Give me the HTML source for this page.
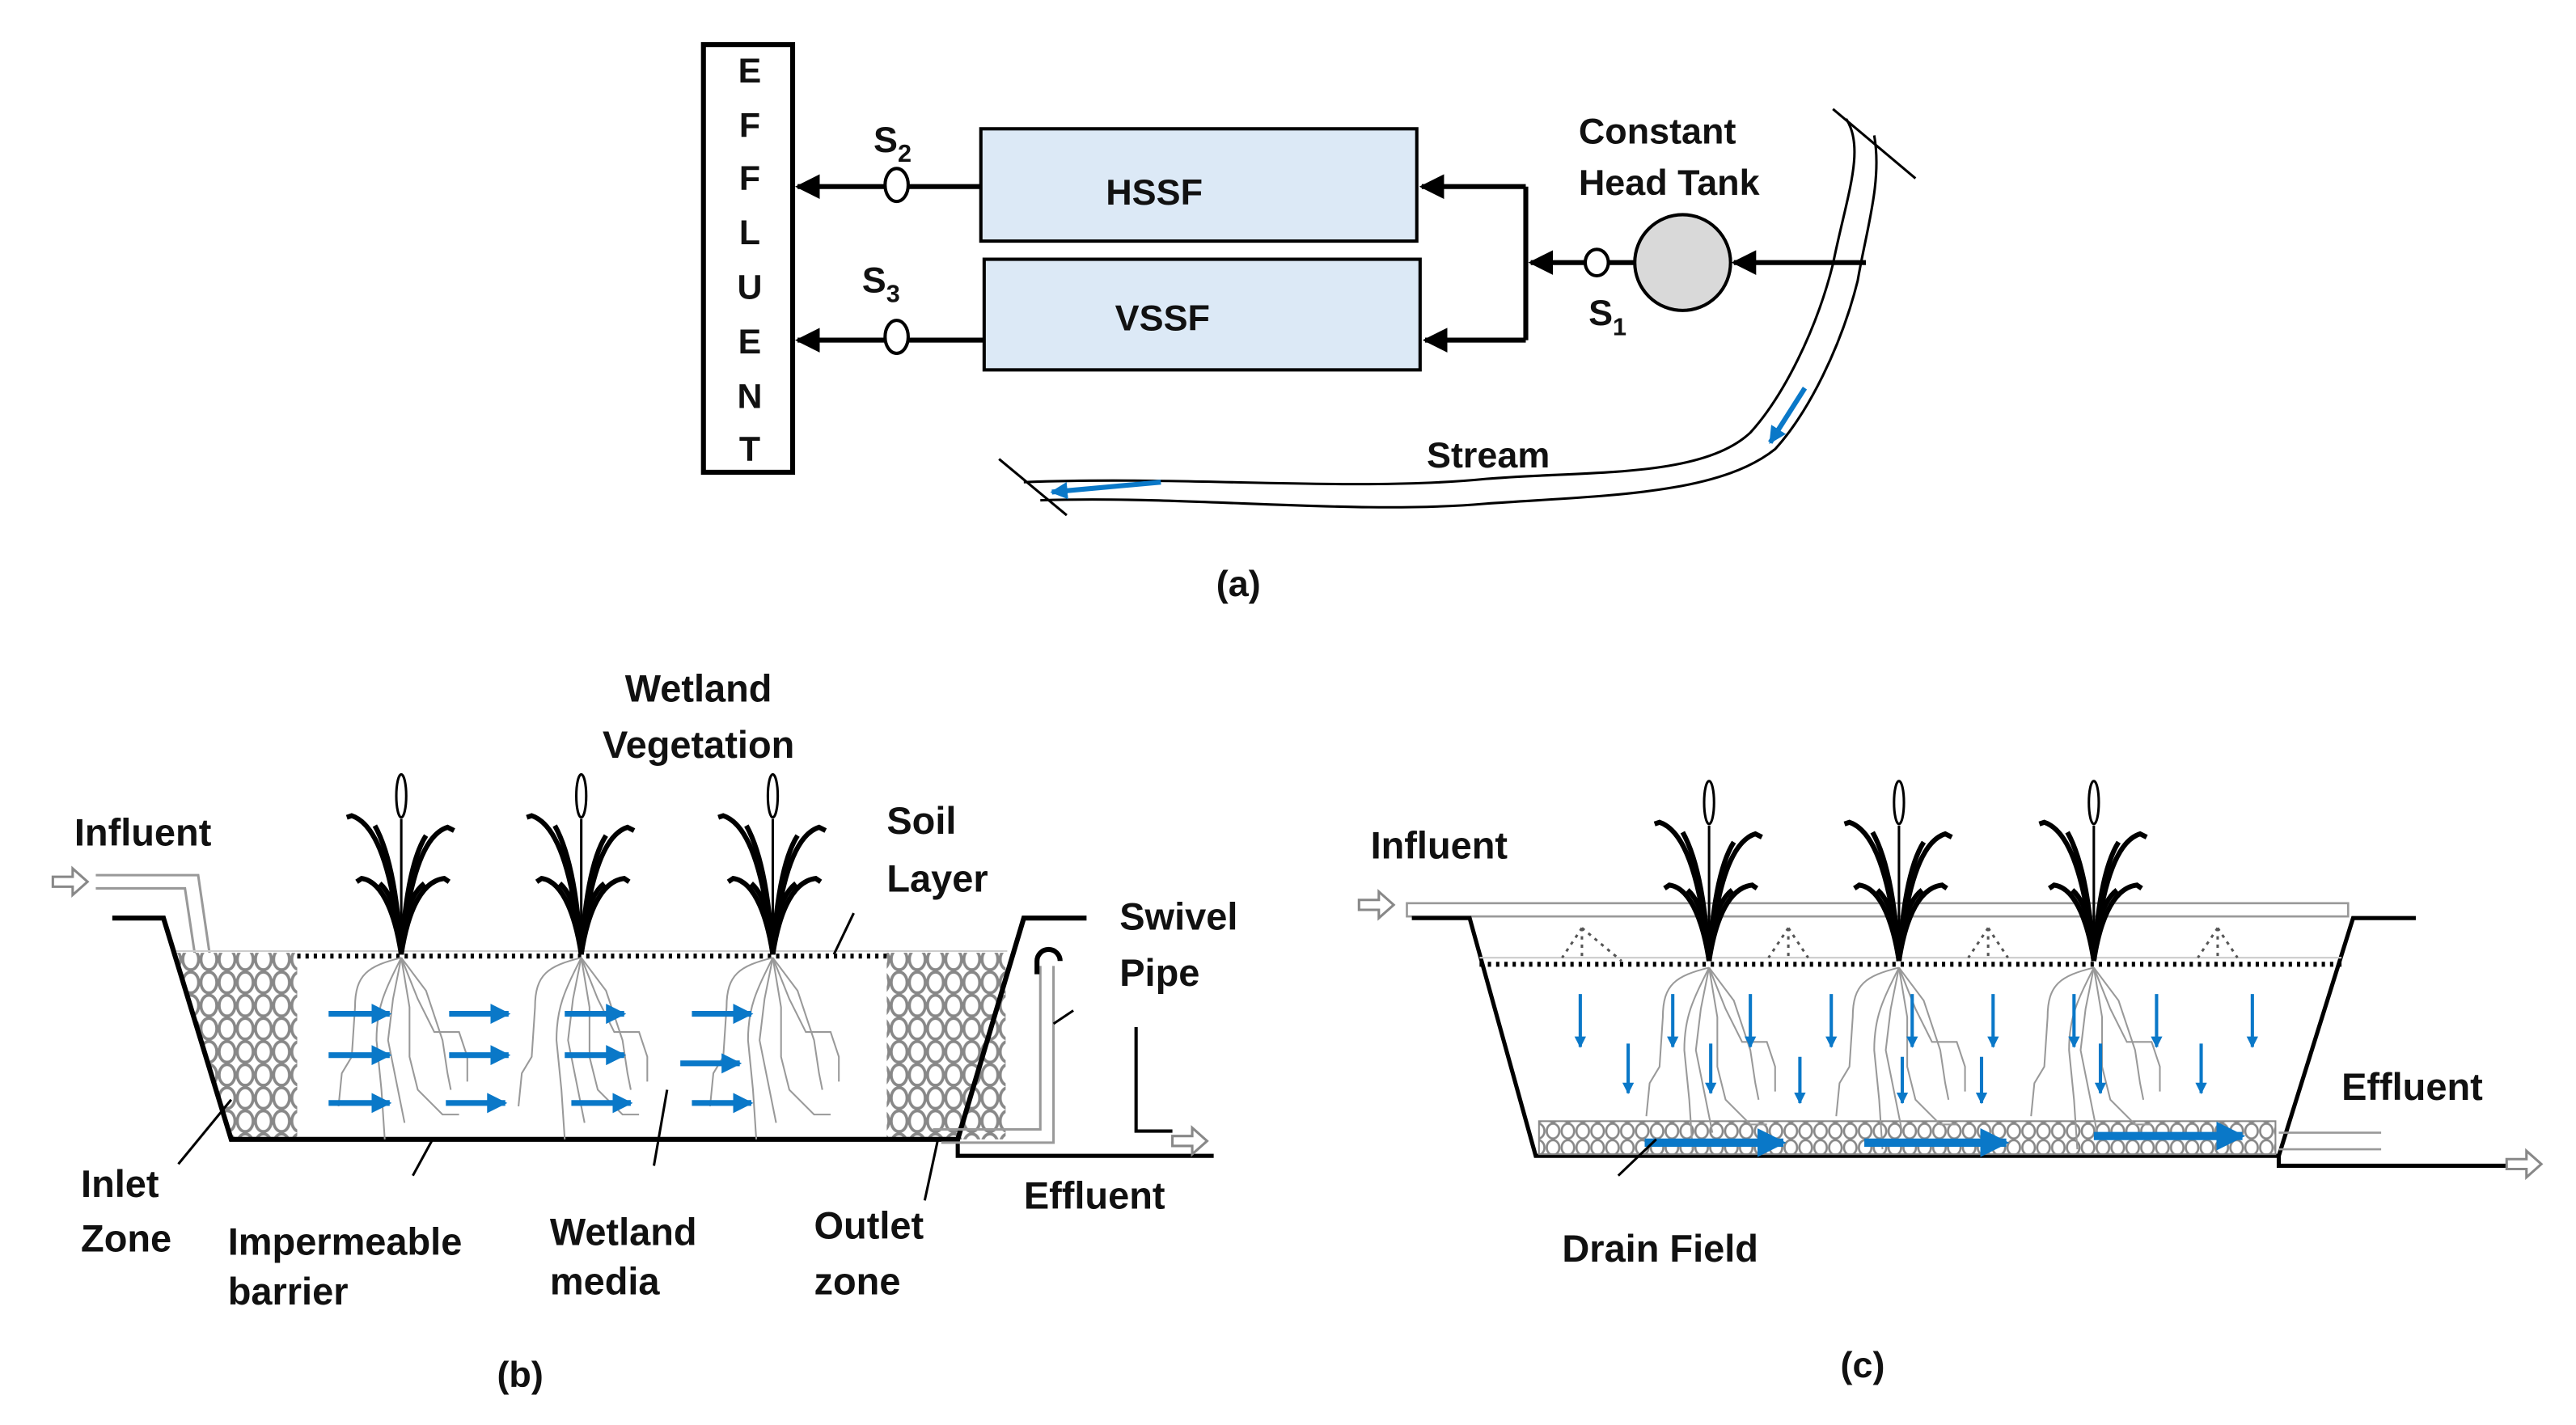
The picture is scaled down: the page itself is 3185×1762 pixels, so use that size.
<!DOCTYPE html>
<html><head><meta charset="utf-8"><style>
html,body{margin:0;padding:0;background:#fff;}
svg{display:block;}
text{font-family:"Liberation Sans",sans-serif;font-weight:bold;fill:#111;}
</style></head><body>
<svg width="3185" height="1762" viewBox="0 0 1560 863" xmlns="http://www.w3.org/2000/svg">
<defs>
<marker id="ah" viewBox="0 0 10 10" refX="9" refY="5" markerWidth="5" markerHeight="5" orient="auto"><path d="M0,0 L10,5 L0,10 z" fill="#000"/></marker>
<marker id="bh" viewBox="0 0 10 10" refX="9" refY="5" markerWidth="3.5" markerHeight="3.5" orient="auto"><path d="M0,0 L10,5 L0,10 z" fill="#0a78c8"/></marker>
<pattern id="grav" width="11" height="14" patternUnits="userSpaceOnUse">
<rect width="11" height="14" fill="#fff"/><ellipse cx="5.5" cy="7" rx="4.8" ry="6.3" fill="none" stroke="#888" stroke-width="1.8"/></pattern>
<pattern id="grav2" width="9" height="10" patternUnits="userSpaceOnUse">
<rect width="9" height="10" fill="#fff"/><ellipse cx="4.5" cy="5" rx="3.8" ry="4.5" fill="none" stroke="#888" stroke-width="1.3"/></pattern>
<g id="plant">
<line x1="0" y1="0" x2="0" y2="-82" stroke="#000" stroke-width="1.5"/>
<ellipse cx="0" cy="-96" rx="3" ry="13" fill="#fff" stroke="#000" stroke-width="1.5"/>
<g fill="none" stroke="#000" stroke-width="3">
<path d="M0,0 C-4,-40 -12,-78 -30,-84 l-3,1"/>
<path d="M0,0 C4,-40 12,-72 28,-77 l4,2"/>
<path d="M0,0 C-3,-20 -10,-44 -24,-46 l-3,2"/>
<path d="M0,0 C3,-20 10,-44 26,-46 l3,2"/>
<path d="M0,0 C-2,-30 -6,-60 -16,-78"/>
<path d="M0,0 C2,-30 6,-58 15,-72"/>
<path d="M0,0 C-1,-20 -5,-36 -13,-43"/>
<path d="M0,0 C1,-20 5,-36 14,-43"/>
</g></g>
<g id="roots" fill="none" stroke="#999" stroke-width="1">
<path d="M0,0 C-20,5 -28,10 -28,30 L-30,60 -36,70 -38,90"/>
<path d="M0,0 C-10,20 -15,30 -15,50 L-12,80 -10,110"/>
<path d="M0,0 L5,30 5,60 10,80 25,95 35,95"/>
<path d="M0,0 L10,25 20,45 35,45 40,60 40,75"/>
<path d="M0,0 L15,20 25,50 28,70 30,80"/>
<path d="M0,0 L-5,25 -8,50 -3,75 2,100"/>
</g>
</defs>

<!-- (a) -->
<rect x="426" y="27" width="54" height="259" fill="#fff" stroke="#000" stroke-width="3"/>
<g font-size="21" text-anchor="middle">
<text x="454" y="50">E</text><text x="454" y="83">F</text><text x="454" y="115">F</text><text x="454" y="148">L</text><text x="454" y="181">U</text><text x="454" y="214">E</text><text x="454" y="247">N</text><text x="454" y="279">T</text></g>
<rect x="594" y="78" width="264" height="68" fill="#dce9f6" stroke="#000" stroke-width="2"/>
<rect x="596" y="157" width="264" height="67" fill="#dce9f6" stroke="#000" stroke-width="2"/>
<text x="699" y="124" font-size="22" text-anchor="middle">HSSF</text>
<text x="704" y="200" font-size="22" text-anchor="middle">VSSF</text>
<g stroke="#000" stroke-width="3" fill="none">
<line x1="594" y1="113" x2="483" y2="113" marker-end="url(#ah)"/>
<line x1="596" y1="206" x2="483" y2="206" marker-end="url(#ah)"/>
<polyline points="924,113 924,206"/>
<line x1="924" y1="113" x2="861" y2="113" marker-end="url(#ah)"/>
<line x1="924" y1="206" x2="863" y2="206" marker-end="url(#ah)"/>
<line x1="990" y1="159" x2="927" y2="159" marker-end="url(#ah)"/>
<line x1="1130" y1="159" x2="1050" y2="159" marker-end="url(#ah)"/>
</g>
<ellipse cx="543" cy="112" rx="7" ry="10" fill="#fff" stroke="#000" stroke-width="2"/>
<ellipse cx="543" cy="204" rx="7" ry="10" fill="#fff" stroke="#000" stroke-width="2"/>
<ellipse cx="967" cy="159" rx="7" ry="8" fill="#fff" stroke="#000" stroke-width="2"/>
<circle cx="1019" cy="159" r="29" fill="#d9d9d9" stroke="#000" stroke-width="2"/>
<text x="529" y="92" font-size="22">S<tspan font-size="15" dy="6">2</tspan></text>
<text x="522" y="177" font-size="22">S<tspan font-size="15" dy="6">3</tspan></text>
<text x="962" y="197" font-size="22">S<tspan font-size="15" dy="6">1</tspan></text>
<text x="956" y="87" font-size="22">Constant</text>
<text x="956" y="118" font-size="22">Head Tank</text>
<g fill="none" stroke="#000" stroke-width="1.5">
<line x1="1110" y1="66" x2="1160" y2="108"/>
<line x1="605" y1="278" x2="646" y2="312"/>
<path d="M1118,72 C1130,90 1118,120 1110,160 C1100,200 1080,240 1060,262 C1030,290 960,285 900,290 C820,298 720,288 620,292"/>
<path d="M1135,82 C1140,110 1130,140 1125,170 C1115,210 1095,250 1075,272 C1040,300 970,300 900,305 C820,312 720,300 630,303"/>
</g>
<line x1="1093" y1="235" x2="1072" y2="268" stroke="#0a78c8" stroke-width="3" marker-end="url(#bh)"/>
<line x1="703" y1="292" x2="637" y2="298" stroke="#0a78c8" stroke-width="3" marker-end="url(#bh)"/>
<text x="864" y="283" font-size="22">Stream</text>
<text x="750" y="361" font-size="22" text-anchor="middle">(a)</text>

<!-- (b) -->
<text x="423" y="425" font-size="23" text-anchor="middle">Wetland</text>
<text x="423" y="459" font-size="23" text-anchor="middle">Vegetation</text>
<text x="45" y="512" font-size="23">Influent</text>
<text x="537" y="505" font-size="23">Soil</text>
<text x="537" y="540" font-size="23">Layer</text>
<text x="678" y="563" font-size="23">Swivel</text>
<text x="678" y="597" font-size="23">Pipe</text>
<path d="M32,531 h12 v-5 l9,8 -9,8 v-5 h-12z" fill="#fff" stroke="#888" stroke-width="1.5"/>
<polyline points="58,530 120,530 127,578" fill="none" stroke="#999" stroke-width="1.5"/>
<polyline points="58,538 112,538 118,578" fill="none" stroke="#999" stroke-width="1.5"/>
<polygon points="106,577 180,577 180,690 140,690" fill="url(#grav)"/>
<rect x="537" y="577" width="72" height="113" fill="url(#grav)"/>
<line x1="180" y1="579" x2="537" y2="579" stroke="#000" stroke-width="3" stroke-dasharray="2,3"/>
<line x1="106" y1="576" x2="610" y2="576" stroke="#ccc" stroke-width="1"/>
<polyline points="68,556 99,556 140,690 580,690 620,556 658,556" fill="none" stroke="#000" stroke-width="3"/>
<polyline points="580,690 580,700 735,700" fill="none" stroke="#000" stroke-width="2.5"/>
<polyline points="565,684 630,684 630,585" fill="none" stroke="#999" stroke-width="1.5"/>
<polyline points="570,692 638,692 638,585" fill="none" stroke="#999" stroke-width="1.5"/>
<path d="M628,590 v-8 a7,7 0 0 1 14,0" fill="none" stroke="#000" stroke-width="3"/>
<polyline points="688,622 688,685 710,685" fill="none" stroke="#000" stroke-width="2"/>
<path d="M710,688 h12 v-5 l9,8 -9,8 v-5 h-12z" fill="#fff" stroke="#888" stroke-width="1.5"/>
<use href="#roots" x="243" y="580"/><use href="#roots" x="352" y="580"/><use href="#roots" x="468" y="580"/>
<use href="#plant" x="243" y="578"/><use href="#plant" x="352" y="578"/><use href="#plant" x="468" y="578"/>
<g stroke="#0a78c8" stroke-width="3.5" marker-end="url(#bh)">
<line x1="199" y1="614" x2="236" y2="614"/><line x1="272" y1="614" x2="308" y2="614"/><line x1="342" y1="614" x2="378" y2="614"/><line x1="419" y1="614" x2="455" y2="614"/>
<line x1="199" y1="639" x2="236" y2="639"/><line x1="272" y1="639" x2="308" y2="639"/><line x1="342" y1="639" x2="378" y2="639"/><line x1="412" y1="644" x2="448" y2="644"/>
<line x1="199" y1="668" x2="236" y2="668"/><line x1="270" y1="668" x2="306" y2="668"/><line x1="346" y1="668" x2="382" y2="668"/><line x1="419" y1="668" x2="455" y2="668"/>
</g>
<g stroke="#000" stroke-width="1.5">
<line x1="505" y1="578" x2="517" y2="553"/>
<line x1="140" y1="666" x2="108" y2="705"/>
<line x1="262" y1="690" x2="250" y2="712"/>
<line x1="404" y1="660" x2="396" y2="706"/>
<line x1="568" y1="690" x2="560" y2="727"/>
<line x1="650" y1="612" x2="638" y2="620"/>
</g>
<text x="49" y="725" font-size="23">Inlet</text>
<text x="49" y="758" font-size="23">Zone</text>
<text x="138" y="760" font-size="23">Impermeable</text>
<text x="138" y="790" font-size="23">barrier</text>
<text x="333" y="754" font-size="23">Wetland</text>
<text x="333" y="784" font-size="23">media</text>
<text x="493" y="750" font-size="23">Outlet</text>
<text x="493" y="784" font-size="23">zone</text>
<text x="620" y="732" font-size="23">Effluent</text>
<text x="315" y="840" font-size="22" text-anchor="middle">(b)</text>

<!-- (c) -->
<text x="830" y="520" font-size="23">Influent</text>
<path d="M823,545 h12 v-5 l9,8 -9,8 v-5 h-12z" fill="#fff" stroke="#888" stroke-width="1.5"/>
<rect x="852" y="547" width="570" height="8" fill="#fff" stroke="#999" stroke-width="1.3"/>
<polyline points="855,556 890,556 930,700 1380,700 1425,556 1463,556" fill="none" stroke="#000" stroke-width="2.5"/>
<line x1="896" y1="580" x2="1418" y2="580" stroke="#ccc" stroke-width="1"/>
<line x1="896" y1="584" x2="1418" y2="584" stroke="#000" stroke-width="3" stroke-dasharray="2,3"/>
<g fill="none" stroke="#555" stroke-width="1.5" stroke-dasharray="2,3">
<path d="M958,562 l-12,18 M958,562 l0,18 M958,562 l24,20"/>
<path d="M1083,562 l-12,18 M1083,562 l0,18 M1083,562 l12,18"/>
<path d="M1204,562 l-12,18 M1204,562 l0,18 M1204,562 l12,18"/>
<path d="M1343,562 l-12,18 M1343,562 l0,18 M1343,562 l12,18"/>
</g>
<rect x="932" y="679" width="446" height="20" fill="url(#grav2)" stroke="#888" stroke-width="1"/>
<line x1="1380" y1="686" x2="1442" y2="686" stroke="#999" stroke-width="1.3"/>
<line x1="1380" y1="696" x2="1442" y2="696" stroke="#999" stroke-width="1.3"/>
<polyline points="1380,700 1380,706 1518,706" fill="none" stroke="#000" stroke-width="2.5"/>
<path d="M1518,702 h12 v-5 l9,8 -9,8 v-5 h-12z" fill="#fff" stroke="#888" stroke-width="1.5"/>
<use href="#roots" x="1035" y="586"/><use href="#roots" x="1150" y="586"/><use href="#roots" x="1268" y="586"/>
<use href="#plant" x="1035" y="582"/><use href="#plant" x="1150" y="582"/><use href="#plant" x="1268" y="582"/>
<g stroke="#0a78c8" stroke-width="2" marker-end="url(#bh)">
<line x1="957" y1="602" x2="957" y2="634"/><line x1="1013" y1="602" x2="1013" y2="634"/><line x1="1060" y1="602" x2="1060" y2="634"/><line x1="1109" y1="602" x2="1109" y2="634"/><line x1="1158" y1="602" x2="1158" y2="634"/><line x1="1207" y1="602" x2="1207" y2="634"/><line x1="1256" y1="602" x2="1256" y2="634"/><line x1="1306" y1="602" x2="1306" y2="634"/><line x1="1364" y1="602" x2="1364" y2="634"/>
<line x1="986" y1="632" x2="986" y2="662"/><line x1="1036" y1="632" x2="1036" y2="662"/><line x1="1090" y1="640" x2="1090" y2="668"/><line x1="1152" y1="640" x2="1152" y2="668"/><line x1="1200" y1="640" x2="1200" y2="668"/><line x1="1272" y1="632" x2="1272" y2="662"/><line x1="1333" y1="632" x2="1333" y2="662"/>
</g>
<g stroke="#0a78c8" stroke-width="5" marker-end="url(#bh)">
<line x1="996" y1="692" x2="1080" y2="692"/><line x1="1129" y1="692" x2="1215" y2="692"/><line x1="1268" y1="688" x2="1358" y2="688"/>
</g>
<line x1="1003" y1="690" x2="980" y2="712" stroke="#000" stroke-width="1.5"/>
<text x="1418" y="666" font-size="23">Effluent</text>
<text x="946" y="764" font-size="23">Drain Field</text>
<text x="1128" y="834" font-size="22" text-anchor="middle">(c)</text>
</svg>
</body></html>
